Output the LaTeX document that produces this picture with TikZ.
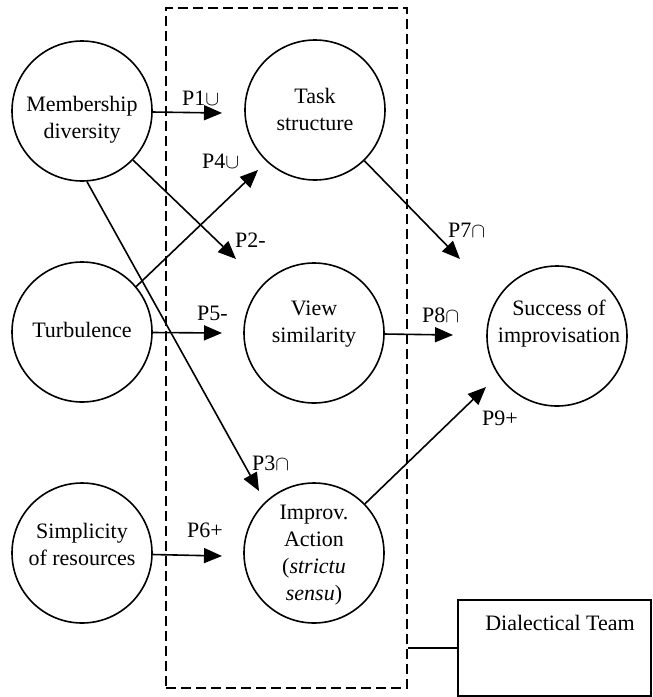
\documentclass[tikz,border=0pt]{standalone}
\usepackage{fontspec}
\setmainfont{Liberation Serif}
\usetikzlibrary{arrows.meta}
\begin{document}
\begin{tikzpicture}[x=1pt,y=-1pt,
  circ/.style={draw,circle,line width=1.6pt,minimum size=140pt,inner sep=0pt},
  ctext/.style={align=center,font=\fontsize{22}{27}\selectfont,inner sep=0pt},
  plab/.style={anchor=base west,font=\fontsize{22}{27}\selectfont,inner sep=0pt},
  arr/.style={line width=1.6pt,-{Triangle[length=18pt,width=15pt]}},
  ]
\useasboundingbox (0,0) rectangle (653,697);
% dashed team box
\node[draw,dashed,dash pattern=on 10pt off 5pt,line width=1.5pt,minimum width=241pt,minimum height=680pt,inner sep=0pt] (team) at (286.5,348) {};
% circles
\node[circ] (md) at (82,111) {};
\node[circ] (ts) at (315,110) {};
\node[circ] (tb) at (82,332) {};
\node[circ] (vs) at (314,333) {};
\node[circ] (si) at (557,336) {};
\node[circ] (sr) at (82,553) {};
\node[circ] (ia) at (314,553) {};
% circle texts
\node[ctext] (mdt) at (82,120) {Membership\\diversity};
\node[ctext] (tst) at (315,109) {Task\\structure};
\node[ctext] (tbt) at (82,330) {Turbulence};
\node[ctext] (vst) at (314,324) {View\\similarity};
\node[ctext] (sit) at (559,324) {Success of\\improvisation};
\node[ctext] (srt) at (82,544) {Simplicity\\of resources};
\node[ctext] (iat) at (314,555) {Improv.\\Action\\(\textit{strictu}\\\textit{sensu})};
% arrow end points
\coordinate (e1) at (222,113);
\coordinate (e2) at (236,259);
\coordinate (e3) at (259,491);
\coordinate (e4) at (258,170);
\coordinate (e5) at (222,333);
\coordinate (e6) at (222,556);
\coordinate (e7) at (460,259);
\coordinate (e8) at (453,335);
\coordinate (e9) at (486,387);
% arrows
\draw[arr] (md) -- (e1);
\draw[arr] (md) -- (e2);
\draw[arr] (md.-86) -- (e3);
\draw[arr] (tb.40) -- (e4);
\draw[arr] (tb) -- (e5);
\draw[arr] (sr) -- (e6);
\draw[arr] (ts) -- (e7);
\draw[arr] (vs) -- (e8);
\draw[arr] (ia) -- (e9);
% labels
\node[plab] (l1) at (182,105) {P1$\cup$};
\node[plab] (l2) at (235,247) {P2-};
\node[plab] (l3) at (252,470) {P3$\cap$};
\node[plab] (l4) at (202,168) {P4$\cup$};
\node[plab] (l5) at (197,320) {P5-};
\node[plab] (l6) at (187,537) {P6+};
\node[plab] (l7) at (448,237) {P7$\cap$};
\node[plab] (l8) at (422,322) {P8$\cap$};
\node[plab] (l9) at (482,425) {P9+};
% dialectical team
\node[draw,line width=1.4pt,minimum width=193pt,minimum height=96pt,inner sep=0pt] (dt) at (554.5,648) {};
\node[ctext] (dtt) at (560,623) {Dialectical Team};
\draw[line width=1.4pt] (team.east |- dt.west) -- (dt.west);
\end{tikzpicture}
\end{document}
